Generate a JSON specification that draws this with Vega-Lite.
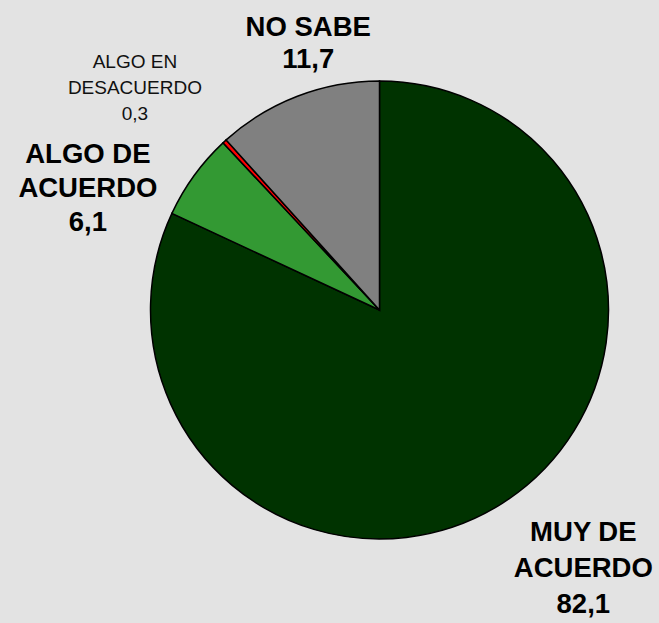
{
  "$schema": "https://vega.github.io/schema/vega-lite/v6.json",
  "autosize": {"type": "none"},
  "width": 559,
  "height": 620,
  "padding": {"left": 100, "top": 0, "right": 0, "bottom": 3},
  "background": "#e3e3e3",
  "config": {"view": {"stroke": null}, "text": {"font": "Liberation Sans"}},
  "data": {"values": [
    {"cat": "MUY DE ACUERDO", "value": 82.1, "ord": 1, "label": "MUY DE\nACUERDO\n82,1"},
    {"cat": "ALGO DE ACUERDO", "value": 6.1, "ord": 2, "label": "ALGO DE\nACUERDO\n6,1"},
    {"cat": "ALGO EN DESACUERDO", "value": 0.3, "ord": 3, "label": "ALGO EN\nDESACUERDO\n0,3"},
    {"cat": "NO SABE", "value": 11.7, "ord": 4, "label": "NO SABE\n11,7"}
  ]},
  "encoding": {
    "theta": {"field": "value", "type": "quantitative", "stack": true},
    "order": {"field": "ord", "type": "quantitative"}
  },
  "layer": [
    {
      "mark": {"type": "arc", "outerRadius": 229, "stroke": "#000000", "strokeWidth": 1.5},
      "encoding": {
        "color": {"field": "cat", "type": "nominal", "legend": null,
          "scale": {"domain": ["MUY DE ACUERDO", "ALGO DE ACUERDO", "ALGO EN DESACUERDO", "NO SABE"],
                    "range": ["#003300", "#339933", "#ff0000", "#808080"]}}
      }
    },
    {
      "mark": {"type": "text", "radius": 329, "dx": 27, "dy": -54, "fontSize": 27.5, "fontWeight": "bold", "lineBreak": "\n", "lineHeight": 36, "align": "center", "baseline": "middle", "color": "#000000"},
      "encoding": {"text": {"condition": {"test": "datum.cat === 'MUY DE ACUERDO'", "field": "label"}, "value": ""}}
    },
    {
      "mark": {"type": "text", "radius": 307, "dx": -43, "dy": 25, "fontSize": 27.5, "fontWeight": "bold", "lineBreak": "\n", "lineHeight": 34, "align": "center", "baseline": "middle", "color": "#000000"},
      "encoding": {"text": {"condition": {"test": "datum.cat === 'ALGO DE ACUERDO'", "field": "label"}, "value": ""}}
    },
    {
      "mark": {"type": "text", "radius": 329, "dx": -22, "dy": -6, "fontSize": 19, "lineBreak": "\n", "lineHeight": 26, "align": "center", "baseline": "middle", "color": "#111111"},
      "encoding": {"text": {"condition": {"test": "datum.cat === 'ALGO EN DESACUERDO'", "field": "label"}, "value": ""}}
    },
    {
      "mark": {"type": "text", "radius": 274, "dx": 27, "dy": -26, "fontSize": 27.5, "fontWeight": "bold", "lineBreak": "\n", "lineHeight": 32, "align": "center", "baseline": "middle", "color": "#000000"},
      "encoding": {"text": {"condition": {"test": "datum.cat === 'NO SABE'", "field": "label"}, "value": ""}}
    }
  ]
}
